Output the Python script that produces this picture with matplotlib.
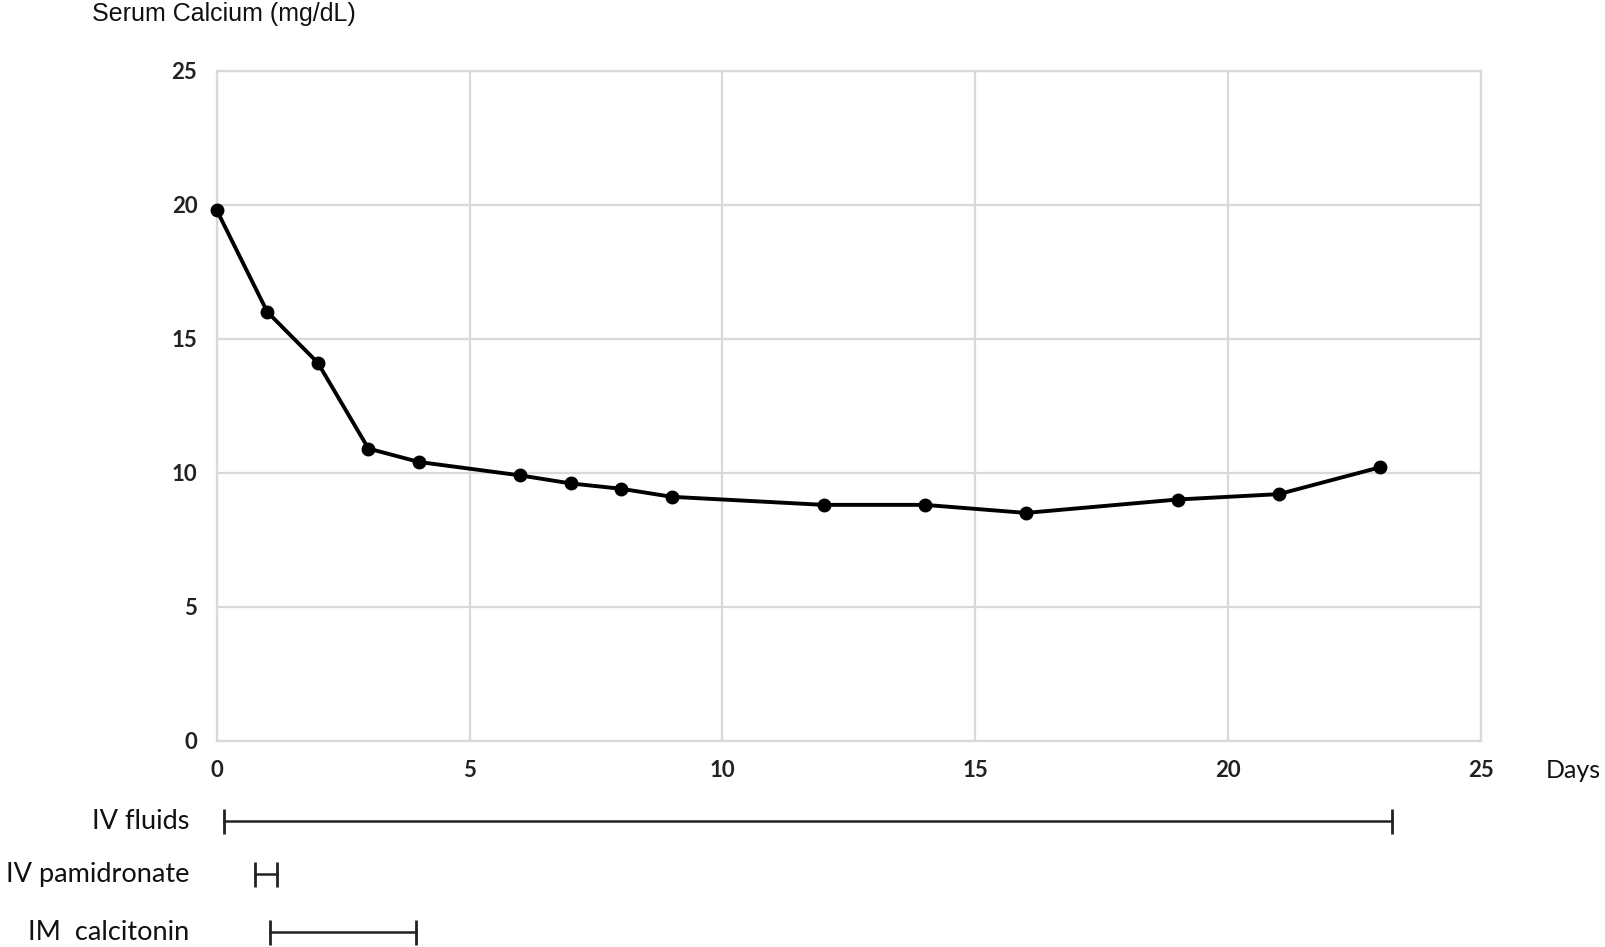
import matplotlib
matplotlib.use("Agg")
import matplotlib.pyplot as plt
import matplotlib.transforms as mtransforms

# Data
days = [0, 1, 2, 3, 4, 6, 7, 8, 9, 12, 14, 16, 19, 21, 23]
calcium = [19.8, 16.0, 14.1, 10.9, 10.4, 9.9, 9.6, 9.4, 9.1, 8.8, 8.8, 8.5, 9.0, 9.2, 10.2]
x_ticks = [0, 5, 10, 15, 20, 25]
y_ticks = [0, 5, 10, 15, 20, 25]

treatments = ["IV fluids", "IV pamidronate", "IM  calcitonin"]
treat_start = [0.15, 0.75, 1.05]
treat_end = [23.25, 1.2, 3.95]

W, H = 1605, 947
fig = plt.figure(figsize=(W / 100, H / 100), dpi=100)
ax = fig.add_axes([216.7 / W, 1 - 740.7 / H, (1481 - 216.7) / W, (740.7 - 70.7) / H])

grid_c = "#d9d9d9"
ax.set_xlim(0, 25)
ax.set_ylim(0, 25)
ax.set_xticks(x_ticks)
ax.set_yticks(y_ticks)
ax.grid(True, color=grid_c, linewidth=1.6)
ax.set_axisbelow(True)
for s in ax.spines.values():
    s.set_color(grid_c)
    s.set_linewidth(1.6)
ax.tick_params(length=0, pad=14, labelsize=16, colors="#222222")
for lbl in ax.get_xticklabels() + ax.get_yticklabels():
    lbl.set_fontfamily("Lato")
    lbl.set_fontweight("bold")

ax.plot(days, calcium, color="black", linewidth=2.8, marker="o", markersize=9,
        clip_on=False, zorder=5)

fig.text(92 / W, 1 - 14 / H, "Serum Calcium (mg/dL)", fontsize=18,
         family="Liberation Sans", va="center", ha="left", color="#111111")
fig.text(1601 / W, 1 - 770 / H, "Days", fontsize=18, family="Lato",
         va="center", ha="right", color="#111111")

trans = mtransforms.blended_transform_factory(ax.transData, fig.transFigure)
rows_y = [821, 874, 932]
for name, x0, x1, yp in zip(treatments, treat_start, treat_end, rows_y):
    yf = 1 - yp / H
    ax.plot([x0, x1], [yf, yf], transform=trans, color="#222222", linewidth=1.8,
            clip_on=False)
    ax.plot([x0, x1], [yf, yf], transform=trans, linestyle="none", marker="|",
            markersize=18, markeredgewidth=2, color="#222222", clip_on=False)
    fig.text(189 / W, yf, name, fontsize=19.5, family="Lato", ha="right",
             va="center", color="#111111")

fig.savefig("out.png", dpi=100)
